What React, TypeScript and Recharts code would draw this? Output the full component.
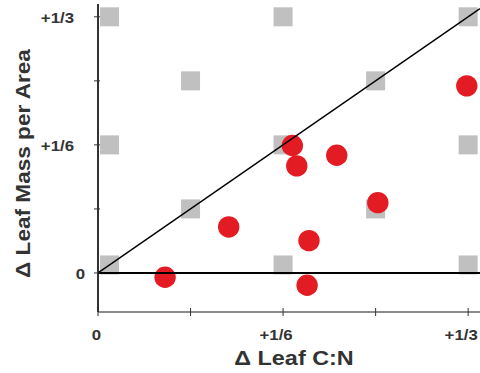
import React from 'react';
import { ScatterChart, Scatter, XAxis, YAxis } from 'recharts';

// Grey reference squares
const squareX = [0.0104, 1 / 6, 1 / 3, 1 / 12, 1 / 4, 0.0104, 1 / 6, 1 / 3, 1 / 12, 1 / 4, 0.0104, 1 / 6, 1 / 3];
const squareY = [1 / 3, 1 / 3, 1 / 3, 1 / 4, 1 / 4, 1 / 6, 1 / 6, 1 / 6, 1 / 12, 1 / 12, 0.0104, 0.0104, 0.0104];

// Red observed points
const pointX = [0.0604, 0.1177, 0.175, 0.179, 0.215, 0.3321, 0.252, 0.19, 0.1883];
const pointY = [-0.0056, 0.0599, 0.1658, 0.1393, 0.1532, 0.2435, 0.0915, 0.0421, -0.016];

// Lines
const zeroLineX = [0, 0.344];
const zeroLineY = [0, 0];
const diagX = [0, 0.344];
const diagY = [0, 0.344];

// Axis ticks
const tickValues = [0, 1 / 12, 1 / 6, 1 / 4, 1 / 3];
const xTickLabels = ['0', '', '+1/6', '', '+1/3'];
const yTickLabels = ['0', '', '+1/6', '', '+1/3'];

const xDomain = [0, 0.344];
const yDomain = [-0.0508, 0.35];

const squares = squareX.map((x, i) => ({ x, y: squareY[i] }));
const points = pointX.map((x, i) => ({ x, y: pointY[i] }));
const zeroLine = zeroLineX.map((x, i) => ({ x, y: zeroLineY[i] }));
const diag = diagX.map((x, i) => ({ x, y: diagY[i] }));

const FONT = '"Liberation Sans", Arial, Helvetica, sans-serif';
const TEXT = '#333';

const SText = ({ x, y, sx, anchor, size, rotate, children }: any) => (
  <g transform={`translate(${x}, ${y})${rotate ? ` rotate(${rotate})` : ''} scale(${sx}, 1)`}>
    <text
      x={0}
      y={0}
      textAnchor={anchor}
      fontFamily={FONT}
      fontWeight="bold"
      fontSize={size}
      fill={TEXT}
    >
      {children}
    </text>
  </g>
);

const SquareShape = (props: any) => {
  const { cx, cy } = props;
  if (cx == null || cy == null) return <g />;
  const s = 19;
  return <rect x={cx - s / 2} y={cy - s / 2} width={s} height={s} fill="#c0c0c0" />;
};

const CircleShape = (props: any) => {
  const { cx, cy } = props;
  if (cx == null || cy == null) return <g />;
  return <circle cx={cx} cy={cy} r={10.7} fill="#e31b23" />;
};

const NoShape = () => <g />;

const XTick = (props: any) => {
  const { x, y, payload } = props;
  const label = xTickLabels[payload.index] ?? '';
  return (
    <g>
      <line x1={x} x2={x} y1={y - 4} y2={y + 4} stroke="#333" strokeWidth={1} />
      {label && (
        <SText x={label === '0' ? x - 1.5 : x - 7} y={y + 27.5} sx={1.2} anchor="middle" size={14}>
          {label}
        </SText>
      )}
    </g>
  );
};

const YTick = (props: any) => {
  const { x, y, payload } = props;
  const label = yTickLabels[payload.index] ?? '';
  return (
    <g>
      <line x1={x - 4} x2={x + 2} y1={y} y2={y} stroke="#333" strokeWidth={1} />
      {label && (
        <SText x={label === '0' ? x - 13 : x - 24} y={y + 6.5} sx={1.2} anchor="end" size={14}>
          {label}
        </SText>
      )}
    </g>
  );
};

const XLabel = (props: any) => {
  const vb = props.viewBox || { x: 98, y: 312, width: 382, height: 61 };
  return (
    <SText x={vb.x + vb.width / 2 + 5} y={vb.y + 53} sx={1.17} anchor="middle" size={20}>
      Δ Leaf C:N
    </SText>
  );
};

const YLabel = (props: any) => {
  const vb = props.viewBox || { x: 0, y: 4, width: 98, height: 308 };
  return (
    <SText x={vb.x + 30} y={vb.y + vb.height / 2 + 5.5} sx={1.13} anchor="middle" size={20} rotate={-90}>
      Δ Leaf Mass per Area
    </SText>
  );
};

export default function App() {
  return (
    <div style={{ position: 'absolute', left: 0, top: 0, width: 480, height: 373, background: '#fff' }}>
      <ScatterChart width={480} height={373} margin={{ top: 4, right: 0, bottom: 0, left: 0 }}>
        <XAxis
          type="number"
          dataKey="x"
          domain={xDomain}
          allowDataOverflow
          ticks={tickValues}
          interval={0}
          height={61}
          tickSize={0}
          tickMargin={0}
          tickLine={false}
          axisLine={{ stroke: '#8c8c8c', strokeWidth: 2 }}
          tick={<XTick />}
          label={<XLabel />}
        />
        <YAxis
          type="number"
          dataKey="y"
          domain={yDomain}
          allowDataOverflow
          ticks={tickValues}
          interval={0}
          width={98}
          tickSize={0}
          tickMargin={0}
          tickLine={false}
          axisLine={{ stroke: '#333', strokeWidth: 2 }}
          tick={<YTick />}
          label={<YLabel />}
        />
        <Scatter data={squares} shape={<SquareShape />} isAnimationActive={false} legendType="none" />
        <Scatter data={points} shape={<CircleShape />} isAnimationActive={false} legendType="none" />
        <Scatter
          data={zeroLine}
          shape={<NoShape />}
          line={{ stroke: '#000', strokeWidth: 2 }}
          isAnimationActive={false}
          legendType="none"
        />
        <Scatter
          data={diag}
          shape={<NoShape />}
          line={{ stroke: '#000', strokeWidth: 1.5 }}
          isAnimationActive={false}
          legendType="none"
        />
      </ScatterChart>
    </div>
  );
}
